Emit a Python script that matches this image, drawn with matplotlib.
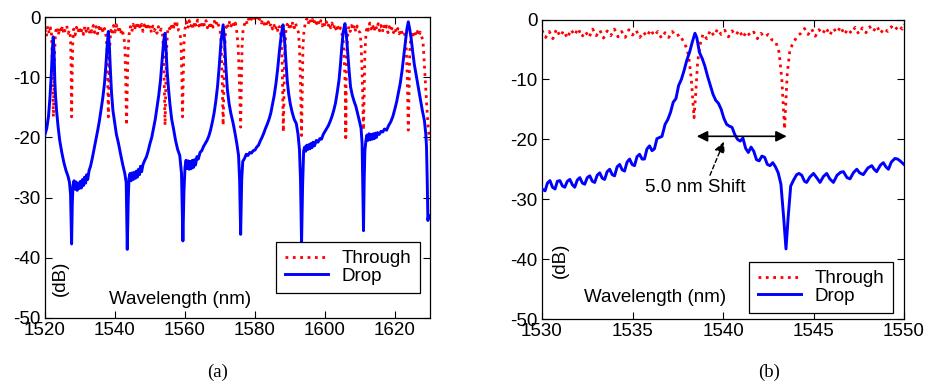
import numpy as np
import matplotlib
matplotlib.use("Agg")
import matplotlib.pyplot as plt

plt.rcParams['font.family'] = ['Liberation Sans', 'DejaVu Sans']
plt.rcParams['axes.unicode_minus'] = False

# ---------------- data: panel (a) ----------------
a_xticks = [1520, 1540, 1560, 1580, 1600, 1620]
yticks = [0, -10, -20, -30, -40, -50]

a_drop = [
    (1520.0, -19.5), (1520.5, -18.5), (1521.0, -16.5), (1521.4, -13.5), (1521.8, -9.5),
    (1522.1, -5.5), (1522.35, -3.3), (1522.6, -6.0), (1522.8, -10.5), (1523.0, -13.0),
    (1523.3, -15.5), (1523.7, -18.0), (1524.2, -20.5), (1524.8, -22.5), (1525.4, -24.2),
    (1526.0, -25.5), (1526.6, -26.5), (1527.0, -27.5), (1527.3, -29.5), (1527.6, -37.7),
    (1527.8, -31.0), (1528.0, -28.0), (1528.3, -27.2), (1528.6, -28.6), (1528.9, -27.4),
    (1529.2, -28.8), (1529.5, -27.6), (1529.8, -28.5), (1530.1, -27.3), (1530.4, -28.4),
    (1530.7, -27.0), (1531.0, -28.0), (1531.3, -26.6), (1531.6, -27.6), (1531.9, -26.2),
    (1532.2, -27.0), (1532.6, -25.5), (1533.0, -24.8), (1533.5, -23.5), (1534.0, -22.0),
    (1534.5, -20.5), (1535.0, -19.0), (1535.5, -17.4), (1536.0, -15.5), (1536.5, -13.5),
    (1537.0, -11.0), (1537.4, -8.0), (1537.8, -4.5), (1538.1, -2.4), (1538.4, -5.0),
    (1538.7, -9.0), (1539.0, -12.5), (1539.4, -15.5), (1539.9, -17.5), (1540.4, -19.5),
    (1541.0, -21.0), (1541.6, -22.8), (1542.2, -24.5), (1542.8, -26.0), (1543.2, -27.5),
    (1543.5, -38.6), (1543.8, -30.0), (1544.0, -26.8), (1544.3, -26.0), (1544.6, -27.2),
    (1544.9, -25.9), (1545.2, -27.0), (1545.5, -25.8), (1545.8, -26.8), (1546.1, -25.6),
    (1546.4, -26.6), (1546.7, -25.3), (1547.0, -26.2), (1547.3, -24.8), (1547.6, -25.7),
    (1548.0, -24.5), (1548.5, -23.8), (1549.0, -23.2), (1549.5, -22.2), (1550.0, -21.0),
    (1550.5, -20.0), (1551.0, -18.5), (1551.5, -17.0), (1552.0, -15.0), (1552.5, -13.0),
    (1553.0, -10.5), (1553.5, -7.0), (1553.9, -4.0), (1554.3, -2.7), (1554.6, -5.5),
    (1554.9, -9.0), (1555.3, -12.0), (1555.7, -14.5), (1556.2, -17.0), (1556.7, -18.5),
    (1557.3, -20.5), (1557.9, -22.0), (1558.5, -23.0), (1559.0, -26.0), (1559.4, -37.2),
    (1559.7, -29.0), (1560.0, -25.0), (1560.3, -23.8), (1560.6, -25.2), (1560.9, -23.9),
    (1561.2, -25.3), (1561.5, -24.0), (1561.8, -25.2), (1562.1, -23.8), (1562.4, -25.0),
    (1562.7, -23.7), (1563.0, -24.6), (1563.4, -23.2), (1563.8, -23.6), (1564.3, -22.5),
    (1564.8, -22.2), (1565.3, -21.5), (1565.8, -21.0), (1566.3, -20.5), (1566.8, -19.8),
    (1567.3, -18.8), (1567.8, -17.5), (1568.3, -16.0), (1568.8, -14.0), (1569.3, -11.5),
    (1569.8, -8.0), (1570.3, -4.0), (1570.9, -1.3), (1571.3, -4.0), (1571.7, -8.5),
    (1572.1, -12.0), (1572.6, -14.4), (1573.1, -16.0), (1573.7, -17.5), (1574.2, -19.0),
    (1574.8, -21.0), (1575.3, -23.0), (1575.6, -27.0), (1575.9, -36.1), (1576.2, -27.0),
    (1576.5, -24.0), (1577.0, -23.5), (1577.5, -22.8), (1578.0, -23.0), (1578.5, -22.5),
    (1579.0, -22.6), (1579.5, -22.2), (1580.0, -22.1), (1580.5, -21.6), (1581.0, -21.3),
    (1581.5, -20.6), (1582.0, -20.0), (1582.5, -19.3), (1583.0, -18.5), (1583.5, -17.8),
    (1584.0, -17.0), (1584.5, -16.0), (1585.0, -14.5), (1585.5, -13.0), (1586.0, -11.0),
    (1586.5, -8.5), (1587.0, -5.5), (1587.5, -3.0), (1588.0, -1.3), (1588.4, -3.5),
    (1588.8, -7.0), (1589.2, -10.5), (1589.6, -12.7), (1590.1, -14.5), (1590.6, -15.8),
    (1591.2, -17.0), (1591.8, -17.7), (1592.3, -19.5), (1592.7, -22.0), (1593.0, -27.0),
    (1593.3, -37.7), (1593.6, -28.0), (1593.9, -22.2), (1594.2, -21.6), (1594.5, -22.3),
    (1594.8, -21.3), (1595.1, -22.0), (1595.4, -21.2), (1595.7, -21.9), (1596.0, -21.0),
    (1596.3, -21.7), (1596.6, -20.8), (1597.0, -21.4), (1597.5, -20.5), (1598.0, -20.8),
    (1598.5, -20.2), (1599.0, -20.3), (1599.5, -19.5), (1600.0, -19.0), (1600.5, -18.5),
    (1601.0, -18.0), (1601.5, -17.3), (1602.0, -16.5), (1602.5, -15.5), (1603.0, -14.3),
    (1603.5, -12.5), (1604.0, -10.5), (1604.4, -8.0), (1604.8, -5.0), (1605.2, -2.5),
    (1605.7, -1.1), (1606.1, -3.0), (1606.5, -6.0), (1606.9, -9.0), (1607.3, -11.6),
    (1607.8, -13.0), (1608.3, -14.0), (1608.8, -14.8), (1609.3, -16.0), (1609.8, -17.2),
    (1610.3, -18.5), (1610.6, -21.0), (1610.8, -28.0), (1611.0, -35.5), (1611.2, -27.0),
    (1611.4, -22.2), (1611.7, -20.5), (1612.0, -19.6), (1612.3, -20.5), (1612.6, -19.4),
    (1612.9, -20.4), (1613.2, -19.5), (1613.5, -20.3), (1613.8, -19.4), (1614.1, -20.2),
    (1614.4, -19.3), (1614.7, -20.0), (1615.0, -19.2), (1615.5, -19.5), (1616.0, -19.0),
    (1616.5, -19.1), (1617.0, -18.6), (1617.6, -18.8), (1618.2, -18.0), (1618.8, -17.4),
    (1619.4, -16.5), (1620.0, -15.2), (1620.5, -14.0), (1621.0, -12.5), (1621.5, -11.0),
    (1622.0, -9.0), (1622.5, -6.5), (1623.0, -4.0), (1623.4, -2.0), (1623.8, -0.8),
    (1624.2, -2.0), (1624.6, -3.5), (1625.0, -5.5), (1625.5, -7.8), (1626.0, -9.5),
    (1626.6, -11.5), (1627.2, -13.5), (1627.8, -15.5), (1628.4, -17.2), (1628.8, -19.5),
    (1629.0, -21.5), (1629.2, -27.0), (1629.4, -33.8), (1629.6, -33.0),
]

a_through = [
    (1520.0, -2.0), (1520.4, -3.2), (1520.8, -1.5), (1521.2, -2.8), (1521.6, -1.8),
    (1521.9, -3.0), (1522.1, -8.0), (1522.3, -14.0), (1522.4, -16.6), (1522.55, -12.0),
    (1522.75, -6.0), (1523.0, -2.5), (1523.4, -1.6), (1523.8, -3.0), (1524.2, -1.8),
    (1524.6, -2.6), (1525.0, -1.5), (1525.4, -2.9), (1525.8, -2.0), (1526.2, -1.4),
    (1526.6, -2.7), (1527.0, -2.2), (1527.3, -3.5), (1527.45, -8.0), (1527.6, -16.6),
    (1527.75, -10.0), (1527.95, -4.0), (1528.2, -2.0), (1528.6, -3.0), (1529.0, -1.7),
    (1529.4, -2.6), (1529.8, -1.6), (1530.2, -2.8), (1530.6, -1.9), (1531.0, -2.9),
    (1531.4, -1.5), (1531.8, -2.4), (1532.2, -1.6), (1532.6, -2.8), (1533.0, -1.8),
    (1533.4, -2.5), (1533.8, -1.4), (1534.2, -2.6), (1534.6, -1.6), (1535.0, -2.8),
    (1535.4, -1.7), (1535.8, -2.5), (1536.2, -1.5), (1536.6, -2.7), (1537.0, -1.9),
    (1537.4, -3.0), (1537.7, -5.0), (1537.9, -10.0), (1538.1, -16.6), (1538.3, -11.0),
    (1538.5, -5.0), (1538.8, -2.2), (1539.2, -3.0), (1539.6, -1.4), (1540.0, -2.5),
    (1540.4, -1.3), (1540.8, -2.4), (1541.2, -1.5), (1541.6, -2.9), (1542.0, -2.0),
    (1542.4, -3.0), (1542.8, -4.5), (1543.05, -10.0), (1543.3, -18.0), (1543.5, -12.0),
    (1543.7, -6.0), (1544.0, -3.0), (1544.4, -1.6), (1544.8, -2.5), (1545.2, -1.2),
    (1545.6, -2.2), (1546.0, -1.0), (1546.4, -2.0), (1546.8, -0.9), (1547.2, -2.1),
    (1547.6, -1.2), (1548.0, -2.4), (1548.4, -1.3), (1548.8, -2.0), (1549.2, -1.0),
    (1549.6, -2.2), (1550.0, -1.4), (1550.4, -2.6), (1550.8, -1.5), (1551.2, -2.3),
    (1551.6, -1.8), (1552.0, -2.7), (1552.4, -1.6), (1552.8, -2.5), (1553.2, -2.0),
    (1553.6, -3.0), (1553.9, -6.0), (1554.1, -12.0), (1554.3, -18.0), (1554.5, -12.0),
    (1554.7, -6.0), (1555.0, -2.5), (1555.4, -1.6), (1555.8, -2.4), (1556.2, -1.0),
    (1556.6, -2.2), (1557.0, -0.8), (1557.4, -1.8), (1557.8, -1.1), (1558.2, -2.3),
    (1558.6, -2.6), (1558.9, -5.0), (1559.1, -10.0), (1559.3, -16.6), (1559.5, -10.0),
    (1559.7, -4.5), (1560.0, -2.0), (1560.4, -0.8), (1560.8, -1.9), (1561.2, -0.6),
    (1561.6, -1.7), (1562.0, -0.9), (1562.4, -2.0), (1562.8, -0.7), (1563.2, -1.6),
    (1563.6, -0.5), (1564.0, -1.5), (1564.4, -0.8), (1564.8, -1.9), (1565.2, -0.7),
    (1565.6, -1.5), (1566.0, -0.6), (1566.4, -1.8), (1566.8, -1.0), (1567.2, -2.0),
    (1567.6, -0.9), (1568.0, -1.7), (1568.4, -0.7), (1568.8, -1.5), (1569.2, -0.6),
    (1569.6, -1.4), (1570.0, -2.0), (1570.3, -4.0), (1570.6, -10.0), (1570.9, -18.0),
    (1571.1, -12.0), (1571.3, -6.0), (1571.6, -2.0), (1572.0, -1.0), (1572.4, -1.8),
    (1572.8, -0.6), (1573.2, -1.5), (1573.6, -0.8), (1574.0, -1.6), (1574.4, -1.0),
    (1574.8, -2.5), (1575.2, -5.0), (1575.5, -10.0), (1575.9, -18.3), (1576.1, -12.0),
    (1576.3, -5.0), (1576.6, -2.0), (1577.0, -1.2), (1577.4, -0.5), (1577.8, -1.2),
    (1578.2, -0.3), (1578.6, -0.9), (1579.0, -0.2), (1579.4, -0.7), (1579.8, 0.0),
    (1580.2, -0.5), (1580.6, -0.1), (1581.0, -0.8), (1581.4, -0.2), (1581.8, -1.0),
    (1582.2, -0.4), (1582.6, -1.2), (1583.0, -0.6), (1583.4, -1.5), (1583.8, -0.8),
    (1584.2, -1.7), (1584.6, -1.0), (1585.0, -2.0), (1585.4, -1.2), (1585.8, -2.2),
    (1586.2, -1.4), (1586.6, -2.5), (1587.0, -1.6), (1587.4, -3.0), (1587.7, -6.0),
    (1587.9, -12.0), (1588.1, -19.1), (1588.3, -13.0), (1588.5, -6.0), (1588.8, -2.5),
    (1589.2, -1.2), (1589.6, -2.0), (1590.0, -1.0), (1590.4, -1.9), (1590.8, -0.8),
    (1591.2, -1.8), (1591.6, -1.0), (1592.0, -2.0), (1592.4, -2.5), (1592.7, -5.0),
    (1593.0, -11.0), (1593.3, -19.7), (1593.5, -12.0), (1593.7, -5.0), (1594.0, -2.2),
    (1594.4, -1.0), (1594.8, -0.3), (1595.2, -1.2), (1595.6, -0.2), (1596.0, -1.0),
    (1596.4, -0.4), (1596.8, -1.3), (1597.2, -0.3), (1597.6, -1.1), (1598.0, -0.5),
    (1598.4, -1.4), (1598.8, -0.6), (1599.2, -1.5), (1599.6, -0.7), (1600.0, -1.6),
    (1600.4, -0.8), (1600.8, -1.7), (1601.2, -0.9), (1601.6, -1.8), (1602.0, -1.0),
    (1602.4, -2.0), (1602.8, -1.2), (1603.2, -2.2), (1603.6, -1.5), (1604.0, -2.4),
    (1604.4, -1.8), (1604.8, -2.6), (1605.2, -4.0), (1605.5, -7.0), (1605.8, -12.0),
    (1605.88, -20.0), (1605.92, -12.0), (1605.96, -20.0), (1606.0, -12.0), (1606.2, -6.0),
    (1606.5, -3.0), (1606.8, -1.5), (1607.2, -2.4), (1607.6, -1.4), (1608.0, -2.2),
    (1608.4, -1.3), (1608.8, -2.5), (1609.2, -1.5), (1609.6, -2.3), (1610.0, -2.6),
    (1610.3, -4.5), (1610.6, -9.0), (1610.8, -14.0), (1611.0, -18.8), (1611.2, -12.0),
    (1611.4, -6.0), (1611.7, -2.8), (1612.0, -1.5), (1612.4, -2.2), (1612.8, -1.0),
    (1613.2, -2.0), (1613.6, -1.2), (1614.0, -2.4), (1614.4, -1.3), (1614.8, -2.1),
    (1615.2, -1.1), (1615.6, -2.3), (1616.0, -1.4), (1616.4, -2.5), (1616.8, -1.3),
    (1617.2, -2.2), (1617.6, -1.5), (1618.0, -2.6), (1618.4, -1.6), (1618.8, -2.4),
    (1619.2, -1.7), (1619.6, -2.6), (1620.0, -1.8), (1620.4, -2.7), (1620.8, -1.9),
    (1621.2, -2.8), (1621.6, -2.0), (1622.0, -2.6), (1622.4, -2.2), (1622.8, -3.0),
    (1623.2, -5.0), (1623.5, -10.0), (1623.8, -18.8), (1624.0, -13.0), (1624.2, -6.0),
    (1624.5, -3.5), (1624.8, -2.4), (1625.2, -3.0), (1625.6, -2.3), (1626.0, -3.1),
    (1626.4, -2.4), (1626.8, -3.2), (1627.2, -2.5), (1627.6, -3.2), (1628.0, -4.0),
    (1628.3, -7.0), (1628.7, -11.0), (1629.1, -15.0), (1629.5, -18.5), (1629.9, -20.5),
]

# ---------------- data: panel (b) ----------------
b_xticks = [1530, 1535, 1540, 1545, 1550]

b_through = [
    (1530.0, -1.8), (1530.2, -3.0), (1530.4, -2.0), (1530.6, -3.2), (1530.8, -1.6),
    (1531.0, -2.8), (1531.2, -1.9), (1531.4, -3.1), (1531.6, -1.7), (1531.8, -2.6),
    (1532.0, -1.5), (1532.2, -2.9), (1532.4, -2.0), (1532.6, -3.0), (1532.8, -1.6),
    (1533.0, -2.7), (1533.2, -1.8), (1533.4, -3.1), (1533.6, -1.9), (1533.8, -2.7),
    (1534.0, -1.6), (1534.2, -2.9), (1534.4, -2.0), (1534.6, -3.0), (1534.8, -1.7),
    (1535.0, -2.6), (1535.2, -1.8), (1535.4, -3.0), (1535.6, -2.1), (1535.8, -2.8),
    (1536.0, -1.7), (1536.2, -2.7), (1536.4, -2.0), (1536.6, -3.1), (1536.8, -2.2),
    (1537.0, -3.0), (1537.2, -2.0), (1537.4, -2.8), (1537.6, -2.5), (1537.8, -3.6),
    (1537.95, -4.5), (1538.1, -6.0), (1538.25, -10.0), (1538.4, -16.4), (1538.5, -12.0),
    (1538.6, -7.0), (1538.75, -4.0), (1538.9, -2.4), (1539.1, -3.2), (1539.3, -1.8),
    (1539.5, -2.7), (1539.7, -1.6), (1539.9, -2.5), (1540.1, -1.8), (1540.3, -2.9),
    (1540.5, -1.9), (1540.7, -2.6), (1540.9, -1.8), (1541.1, -3.0), (1541.3, -2.0),
    (1541.5, -2.7), (1541.7, -2.1), (1541.9, -3.2), (1542.1, -2.3), (1542.3, -2.9),
    (1542.5, -2.5), (1542.7, -3.4), (1542.9, -3.6), (1543.1, -5.5), (1543.25, -10.0),
    (1543.4, -18.3), (1543.55, -9.0), (1543.7, -5.0), (1543.9, -3.8), (1544.1, -2.8),
    (1544.3, -2.3), (1544.5, -1.5), (1544.7, -2.5), (1544.9, -1.6), (1545.1, -2.8),
    (1545.3, -1.7), (1545.5, -2.4), (1545.7, -1.4), (1545.9, -2.6), (1546.1, -1.5),
    (1546.3, -2.2), (1546.5, -1.2), (1546.7, -2.5), (1546.9, -1.6), (1547.1, -2.3),
    (1547.3, -1.3), (1547.5, -2.4), (1547.7, -1.4), (1547.9, -2.2), (1548.1, -1.2),
    (1548.3, -2.0), (1548.5, -1.1), (1548.7, -2.3), (1548.9, -1.5), (1549.1, -2.0),
    (1549.3, -1.2), (1549.5, -1.8), (1549.7, -1.0), (1549.9, -1.6), (1550.0, -0.8),
]

b_drop = [
    (1530.0, -28.3), (1530.17, -28.6), (1530.3, -27.3), (1530.44, -26.9), (1530.58, -28.0),
    (1530.72, -28.3), (1530.85, -27.0), (1530.99, -26.9), (1531.13, -27.8), (1531.26, -28.0),
    (1531.4, -27.0), (1531.54, -26.7), (1531.68, -27.6), (1531.81, -28.0), (1531.95, -26.8),
    (1532.09, -26.4), (1532.23, -27.3), (1532.36, -27.5), (1532.5, -26.4), (1532.64, -26.1),
    (1532.78, -27.0), (1532.91, -27.2), (1533.05, -26.0), (1533.19, -25.6), (1533.33, -26.5),
    (1533.46, -26.7), (1533.6, -25.4), (1533.74, -25.0), (1533.88, -25.9), (1534.01, -26.1),
    (1534.15, -24.6), (1534.29, -24.2), (1534.43, -25.1), (1534.56, -25.3), (1534.7, -23.8),
    (1534.84, -23.3), (1534.98, -24.2), (1535.11, -24.4), (1535.25, -22.9), (1535.39, -22.5),
    (1535.53, -23.3), (1535.66, -23.3), (1535.8, -21.6), (1535.94, -21.1), (1536.08, -21.9),
    (1536.21, -21.6), (1536.35, -19.9), (1536.49, -19.7), (1536.63, -19.5), (1536.8, -17.5),
    (1536.95, -16.7), (1537.1, -15.5), (1537.25, -13.8), (1537.4, -13.2), (1537.55, -11.0),
    (1537.7, -10.0), (1537.85, -8.5), (1538.0, -6.8), (1538.15, -5.5), (1538.3, -3.8),
    (1538.45, -2.3), (1538.55, -3.0), (1538.7, -5.5), (1538.85, -6.5), (1539.0, -7.8),
    (1539.15, -9.5), (1539.3, -11.0), (1539.45, -12.5), (1539.6, -13.5), (1539.75, -14.0),
    (1539.9, -15.0), (1540.05, -16.5), (1540.2, -17.5), (1540.35, -17.8), (1540.5, -18.0),
    (1540.65, -19.2), (1540.8, -20.0), (1540.95, -20.3), (1541.1, -19.8), (1541.25, -21.5),
    (1541.4, -22.2), (1541.55, -21.3), (1541.7, -22.0), (1541.85, -23.4), (1542.0, -23.6),
    (1542.15, -22.8), (1542.3, -23.0), (1542.45, -24.2), (1542.6, -24.4), (1542.75, -23.9),
    (1542.9, -24.6), (1543.05, -25.6), (1543.2, -27.5), (1543.35, -33.0), (1543.48, -38.3),
    (1543.6, -33.0), (1543.74, -27.8), (1543.9, -26.8), (1544.07, -25.9), (1544.2, -25.7),
    (1544.35, -26.0), (1544.5, -27.0), (1544.62, -27.2), (1544.8, -26.3), (1545.0, -25.7),
    (1545.2, -26.5), (1545.36, -27.2), (1545.55, -26.2), (1545.73, -25.7), (1545.9, -26.6),
    (1546.1, -27.2), (1546.3, -26.0), (1546.5, -25.5), (1546.65, -25.4), (1546.85, -26.4),
    (1547.02, -26.6), (1547.2, -25.6), (1547.39, -25.0), (1547.55, -25.6), (1547.75, -25.9),
    (1548.0, -24.8), (1548.22, -24.4), (1548.35, -25.0), (1548.49, -25.4), (1548.7, -24.3),
    (1548.86, -23.9), (1549.0, -24.6), (1549.14, -25.0), (1549.3, -23.8), (1549.5, -23.2),
    (1549.65, -23.3), (1549.78, -23.6), (1550.0, -24.2),
]

shift_start = 1538.55   # nm, drop peak / first through dip
shift_end = 1543.52     # nm, shifted through dip
shift_level = -19.5     # dB
shift_label = "5.0 nm Shift"

# ---------------- figure ----------------
FS = 13.5
fig = plt.figure(figsize=(9.28, 3.81), dpi=100)
ax_a = fig.add_axes([45 / 928, 63 / 381, 385 / 928, 301 / 381])
ax_b = fig.add_axes([542 / 928, 62 / 381, 362 / 928, 299.5 / 381])


def style(ax, xlim, xticks):
    ax.set_xlim(*xlim)
    ax.set_ylim(-50, 0)
    ax.set_xticks(xticks)
    ax.set_yticks(yticks)
    ax.tick_params(direction='in', top=True, right=True, length=5, width=0.8,
                   labelsize=FS, colors='black')
    ax.tick_params(axis='x', pad=3)
    ax.tick_params(axis='y', pad=3)
    for s in ax.spines.values():
        s.set_linewidth(0.9)
        s.set_color('black')


def draw(ax, through, drop):
    t = np.array(through).T
    d = np.array(drop).T
    ax.plot(t[0], t[1], color='#ff0000', linestyle=':', linewidth=2.0, label='Through', zorder=2)
    ax.plot(d[0], d[1], color='#0000ff', linestyle='-', linewidth=2.1, label='Drop', zorder=3)


def legend(ax, anchor):
    leg = ax.legend(loc='lower right', bbox_to_anchor=anchor, fontsize=FS,
                    frameon=True, fancybox=False, framealpha=1, edgecolor='black',
                    handlelength=2.3, handletextpad=0.75, labelspacing=0.0,
                    borderpad=0.45, borderaxespad=0)
    leg.get_frame().set_linewidth(0.9)


# panel (a)
draw(ax_a, a_through, a_drop)
style(ax_a, (1520, 1630), a_xticks)
ax_a.set_xlabel('Wavelength (nm)', fontsize=FS, va='center')
ax_a.xaxis.set_label_coords(0.351, 0.06)
ax_a.set_ylabel('(dB)', fontsize=FS, va='center')
ax_a.yaxis.set_label_coords(0.039, 0.133)
legend(ax_a, (0.974, 0.083))

# panel (b)
draw(ax_b, b_through, b_drop)
style(ax_b, (1530, 1550), b_xticks)
ax_b.set_xlabel('Wavelength (nm)', fontsize=FS, va='center')
ax_b.xaxis.set_label_coords(0.312, 0.073)
ax_b.set_ylabel('(dB)', fontsize=FS, va='center')
ax_b.yaxis.set_label_coords(0.05, 0.197)
legend(ax_b, (0.970, 0.02))

ax_b.annotate('', xy=(shift_start, shift_level), xytext=(shift_end, shift_level),
              arrowprops=dict(arrowstyle='<|-|>', color='black', lw=1.2,
                              mutation_scale=16, shrinkA=0, shrinkB=0), zorder=4)
ax_b.annotate('', xy=(1540.05, -20.4), xytext=(1539.28, -26.0),
              arrowprops=dict(arrowstyle='-|>', color='black', lw=1.0, linestyle=(0, (3, 2)),
                              mutation_scale=16, shrinkA=0, shrinkB=0), zorder=4)
ax_b.text(1538.45, -28.1, shift_label, fontsize=FS, ha='center', va='center', zorder=4)

fig.text(218 / 928, 1 - 372 / 381, '(a)', fontsize=13.5, family=['Liberation Serif'],
         ha='center', va='center')
fig.text(769 / 928, 1 - 372 / 381, '(b)', fontsize=13.5, family=['Liberation Serif'],
         ha='center', va='center')

fig.savefig('out.png', dpi=100, facecolor='white')
